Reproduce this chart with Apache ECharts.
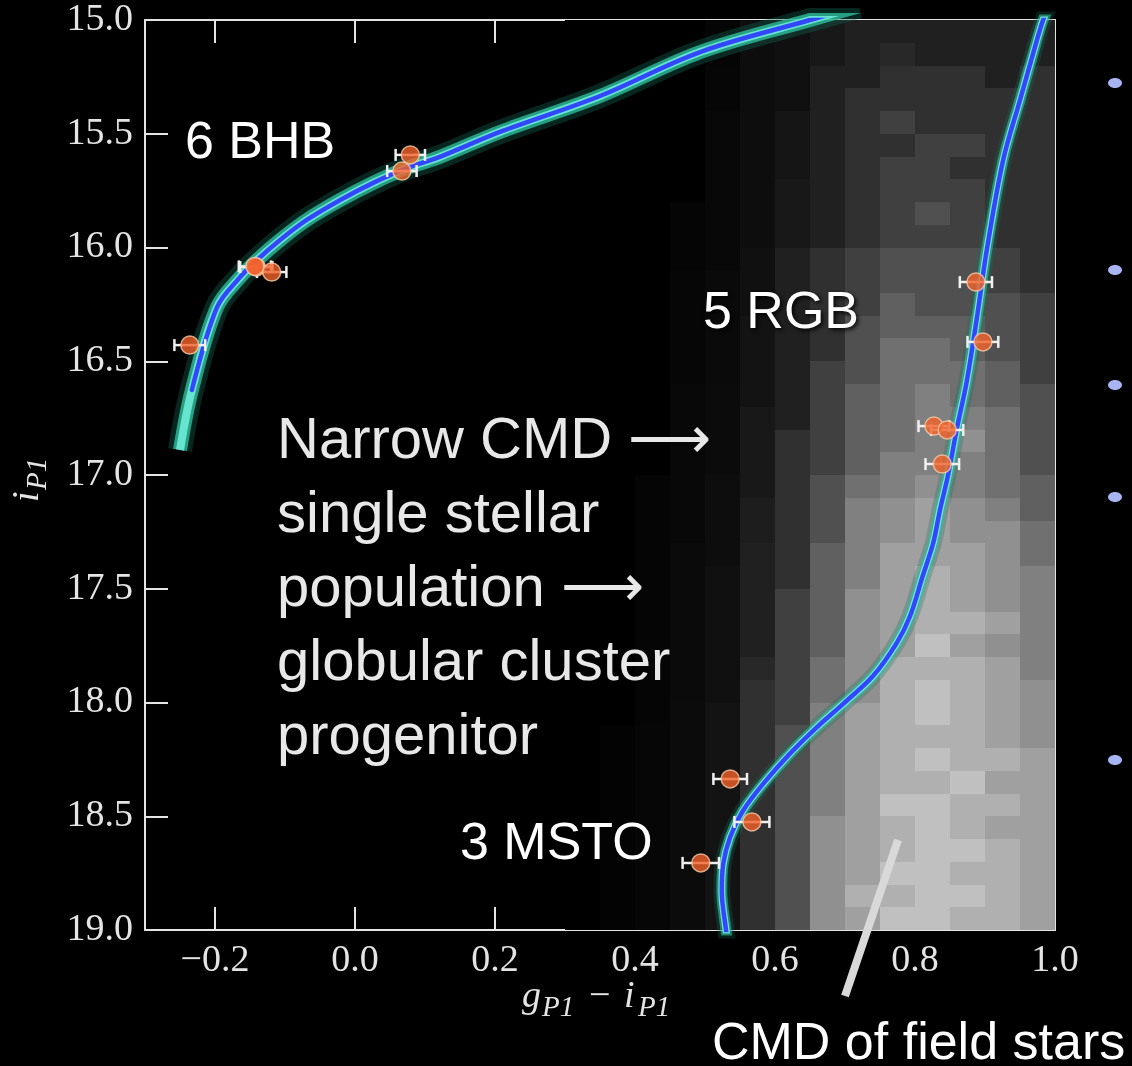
<!DOCTYPE html>
<html>
<head>
<meta charset="utf-8">
<style>
  html, body { margin: 0; padding: 0; background: #000; }
  #chart { width: 1132px; height: 1066px; }
</style>
<script src="https://cdn.jsdelivr.net/npm/echarts@6/dist/echarts.min.js"></script>
</head>
<body>
<div id="chart"></div>
<script>
// ---------- data ----------
const xTicks = [-0.2, 0.0, 0.2, 0.4, 0.6, 0.8, 1.0];

// Horizontal-branch isochrone (colour, magnitude)
const bhbCurveX = [-0.250, -0.233, -0.197, -0.164, -0.140, -0.107, -0.069, -0.021, 0.026, 0.074, 0.121, 0.207, 0.350, 0.493, 0.650, 0.720];
const bhbCurveY = [16.890, 16.626, 16.262, 16.130, 16.055, 15.967, 15.879, 15.791, 15.716, 15.651, 15.602, 15.492, 15.334, 15.141, 15.000, 14.940];

// Main sequence turn-off + red giant branch isochrone
const rgbCurveX = [0.532, 0.530, 0.524, 0.526, 0.536, 0.554, 0.583, 0.621, 0.660, 0.697, 0.740, 0.774, 0.793, 0.811, 0.826, 0.836, 0.847, 0.860, 0.874, 0.889, 0.903, 0.926, 0.950, 0.969, 0.983, 0.995];
const rgbCurveY = [19.050, 19.000, 18.829, 18.710, 18.591, 18.477, 18.358, 18.226, 18.108, 18.007, 17.884, 17.738, 17.620, 17.444, 17.299, 17.149, 17.004, 16.793, 16.587, 16.297, 16.002, 15.615, 15.352, 15.145, 15.000, 14.920];

// Member stars: colour, magnitude, colour error
const starX   = [-0.236, -0.141, -0.143, -0.119, 0.079, 0.067,  0.887, 0.897, 0.827, 0.846, 0.839,  0.536, 0.567, 0.494];
const starY   = [16.429, 16.086, 16.083, 16.108, 15.593, 15.664, 16.152, 16.415, 16.785, 16.802, 16.952, 18.336, 18.525, 18.705];
const starErr = [0.022, 0.023, 0.023, 0.021, 0.021, 0.021, 0.023, 0.022, 0.022, 0.023, 0.024, 0.024, 0.025, 0.026];

// Field-star CMD (2D histogram): column starts (colour), row starts (mag), brightness level per cell
const hmCols = [0.30, 0.35, 0.40, 0.45, 0.50, 0.55, 0.60, 0.65, 0.70, 0.75, 0.80, 0.85, 0.90, 0.95];
const hmMags = [15.0, 15.1, 15.2, 15.3, 15.4, 15.5, 15.6, 15.7, 15.8, 15.9,
                16.0, 16.1, 16.2, 16.3, 16.4, 16.5, 16.6, 16.7, 16.8, 16.9,
                17.0, 17.1, 17.2, 17.3, 17.4, 17.5, 17.6, 17.7, 17.8, 17.9,
                18.0, 18.1, 18.2, 18.3, 18.4, 18.5, 18.6, 18.7, 18.8, 18.9];
const hmLevels = [
  [0,0,0,0,0.3,0.8,1,1.5,2,2,2,2,2,2],
  [0,0,0,0,0.3,0.8,1,1.5,2,2.5,2,2,2,2],
  [0,0,0,0,0.4,0.8,1,2,2,3,3,3,2,3],
  [0,0,0,0,0.4,0.8,1,2,3,3,3,3,3,3],
  [0,0,0,0,0.5,0.8,1.3,2,3,4,3,3,3,3],
  [0,0,0,0,0.5,0.8,1.3,2,3,3,4,4,3,3],
  [0,0,0,0,0.5,0.8,1.3,2,3,4,4,3,3,3],
  [0,0,0,0,0.5,0.8,1.5,2,3,4,4,4,3,3],
  [0,0,0,0.3,0.5,0.8,1.5,2,3,4,5,4,3,3],
  [0,0,0,0.3,0.5,0.8,1.5,2,3,4,4,4,3,3],
  [0,0,0,0.3,0.5,1,2,3,4,5,5,5,4,3],
  [0,0,0,0.4,0.6,1,2,3,4,5,5,5,4,3],
  [0,0,0,0.4,0.6,1,2,3,4,6,5,5,5,4],
  [0,0,0,0.4,0.6,1.2,2,3,5,6,6,6,5,4],
  [0,0,0,0.4,0.6,1.2,2,3,5,7,7,6,5,4],
  [0,0,0,0.4,0.6,1.2,2,4,5,7,7,7,6,4],
  [0,0,0,0.5,0.7,1.2,2,4,6,7,8,7,6,5],
  [0,0,0,0.5,0.7,1.5,2,4,6,7,8,8,7,5],
  [0,0,0,0.5,0.7,1.5,3,4,6,7,8,9,7,5],
  [0,0,0,0.5,0.7,1.5,3,4,6,8,8,8,7,5],
  [0,0,0.3,0.5,0.8,1.5,3,5,7,8,9,8,7,6],
  [0,0,0.3,0.5,0.8,1.8,3,5,8,9,10,9,8,6],
  [0,0,0.3,0.5,0.8,1.8,3,5,8,9,10,9,9,7],
  [0,0,0.3,0.6,0.8,2,3,6,8,10,10,10,9,7],
  [0,0,0.3,0.6,1,2,3,6,8,10,11,10,9,8],
  [0,0,0.3,0.6,1,2,4,6,9,10,11,10,9,8],
  [0,0,0.3,0.6,1,2,4,6,9,10,11,11,10,8],
  [0,0,0.3,0.6,1,2,4,6,9,10,12,10,9,8],
  [0,0,0.3,0.6,1,2.5,4,7,9,11,11,11,10,8],
  [0,0,0.3,0.6,1,3,4,7,9,11,12,11,10,9],
  [0,0,0.3,0.7,1.2,3,4,8,10,11,12,11,10,9],
  [0,0.2,0.4,0.7,1.2,3,5,8,10,11,11,11,10,9],
  [0,0.2,0.4,0.7,1.2,3,5,8,10,11,12,11,11,10],
  [0,0.2,0.4,0.7,1.2,3,5,8,10,11,11,12,10,10],
  [0,0.2,0.4,0.7,1.2,3,5,8,10,12,12,11,11,10],
  [0,0.2,0.4,0.7,1.2,3,5,9,10,11,12,11,10,10],
  [0,0.2,0.4,0.7,1.2,3,5,9,10,11,12,12,11,10],
  [0,0.2,0.4,0.7,1.2,3,5,9,10,12,12,11,11,10],
  [0,0.2,0.4,0.7,1.2,3,5,9,11,11,12,12,11,10],
  [0,0.2,0.4,0.7,1.2,3,5,9,10,12,12,11,11,10]
];
const hmColWidth = 0.05, hmRowHeight = 0.1;

// ---------- build ----------
const zip = (a, b) => a.map((v, i) => [v, b[i]]);
const bhbAll = zip(bhbCurveX, bhbCurveY);
const bhbCore = bhbAll.slice(1);
const rgbAll = zip(rgbCurveX, rgbCurveY);
const stars = starX.map((x, i) => [x, starY[i], starErr[i]]);
const cells = [];
hmMags.forEach((m, r) => hmCols.forEach((c, k) => cells.push([c, m, hmLevels[r][k]])));

const AX = '#e4e4e4';
const serif = '"Liberation Serif", "DejaVu Serif", serif';
const sans = '"Liberation Sans", Arial, sans-serif';
const fmt = v => (v < 0 ? '\u2212' + Math.abs(v).toFixed(1) : v.toFixed(1));

function glowSeries(data, width, color, z, cap) {
  return { type: 'line', data, smooth: 0.35, showSymbol: false, symbol: 'none', silent: true,
           lineStyle: { width, color, cap: cap || 'butt', join: 'round' }, z, clip: true, animation: false };
}

const chart = echarts.init(document.getElementById('chart'), null, { renderer: 'canvas' });
chart.setOption({
  backgroundColor: '#000',
  animation: false,
  grid: { left: 145, top: 20, right: 77, bottom: 136, containLabel: false },
  xAxis: [
    { type: 'value', min: -0.3, max: 1.0, position: 'bottom',
      axisLine: { show: true, onZero: false, lineStyle: { color: AX, width: 2 } },
      axisTick: { show: true, inside: true, length: 23, customValues: xTicks, lineStyle: { color: AX, width: 2 } },
      axisLabel: { show: true, customValues: xTicks, formatter: fmt, color: AX, fontFamily: serif, fontSize: 38, margin: 12 },
      splitLine: { show: false } },
    { type: 'value', min: -0.3, max: 1.0, position: 'top',
      axisLine: { show: true, onZero: false, lineStyle: { color: AX, width: 2 } },
      axisTick: { show: true, inside: true, length: 23, customValues: xTicks, lineStyle: { color: AX, width: 2 } },
      axisLabel: { show: false }, splitLine: { show: false } }
  ],
  yAxis: [
    { type: 'value', min: 15, max: 19, interval: 0.5, inverse: true, position: 'left',
      axisLine: { show: true, onZero: false, lineStyle: { color: AX, width: 2 } },
      axisTick: { show: true, inside: true, length: 23, lineStyle: { color: AX, width: 2 } },
      axisLabel: { show: true, formatter: v => v.toFixed(1), color: AX, fontFamily: serif, fontSize: 38, margin: 12 },
      splitLine: { show: false } },
    { type: 'value', min: 15, max: 19, interval: 0.5, inverse: true, position: 'right',
      axisLine: { show: true, onZero: false, lineStyle: { color: AX, width: 2 } },
      axisTick: { show: true, inside: true, length: 23, lineStyle: { color: AX, width: 2 } },
      axisLabel: { show: false }, splitLine: { show: false } }
  ],
  series: [
    { type: 'custom', data: cells, silent: true, z: 1, clip: true,
      renderItem: function (params, api) {
        const x0 = api.value(0), y0 = api.value(1), v = api.value(2);
        const p0 = api.coord([x0, y0]);
        const p1 = api.coord([x0 + hmColWidth, y0 + hmRowHeight]);
        const g = Math.min(255, Math.round(v * 16));
        return { type: 'rect',
          shape: { x: Math.round(p0[0]), y: Math.round(p0[1]), width: Math.round(p1[0]) - Math.round(p0[0]), height: Math.round(p1[1]) - Math.round(p0[1]) },
          style: { fill: 'rgb(' + g + ',' + g + ',' + g + ')' } };
      } },
    glowSeries(bhbAll, 24, 'rgba(20,110,90,0.35)', 3),
    glowSeries(bhbAll, 14, 'rgba(45,190,155,0.8)', 4),
    glowSeries(bhbAll, 8, 'rgba(110,235,215,0.9)', 5),
    glowSeries(bhbCore, 4.5, '#3347ff', 6, 'round'),
    glowSeries(rgbAll, 17, 'rgba(20,110,90,0.28)', 3),
    glowSeries(rgbAll, 11, 'rgba(45,190,155,0.62)', 4),
    glowSeries(rgbAll, 7, 'rgba(120,240,225,0.9)', 5),
    glowSeries(rgbAll, 4.5, '#3347ff', 6),
    { type: 'custom', data: stars, silent: true, z: 8,
      renderItem: function (params, api) {
        const x = api.value(0), y = api.value(1), e = api.value(2);
        const a = api.coord([x - e, y]), b = api.coord([x + e, y]);
        const st = { stroke: '#f0f0f0', lineWidth: 2.5 };
        return { type: 'group', children: [
          { type: 'line', shape: { x1: a[0], y1: a[1], x2: b[0], y2: b[1] }, style: st },
          { type: 'line', shape: { x1: a[0], y1: a[1] - 6, x2: a[0], y2: a[1] + 6 }, style: st },
          { type: 'line', shape: { x1: b[0], y1: b[1] - 6, x2: b[0], y2: b[1] + 6 }, style: st }
        ] };
      } },
    { type: 'scatter', data: stars.map(s => [s[0], s[1]]), symbol: 'circle', symbolSize: 18, z: 9, silent: true,
      itemStyle: { color: '#f4622a', borderColor: '#f7caa6', borderWidth: 1.5 } }
  ],
  graphic: [
    { type: 'text', z: 100, x: 185, y: 144, style: { text: '6 BHB', fill: '#fff', font: '52px ' + sans, verticalAlign: 'middle' } },
    { type: 'text', z: 100, x: 703, y: 314, style: { text: '5 RGB', fill: '#fff', font: '52px ' + sans, verticalAlign: 'middle',
        textShadowColor: 'rgba(0,0,0,0.9)', textShadowBlur: 4, textShadowOffsetX: 2, textShadowOffsetY: 2 } },
    { type: 'text', z: 100, x: 277, y: 405, style: { text: 'Narrow CMD \u27F6\nsingle stellar\npopulation \u27F6\nglobular cluster\nprogenitor',
        fill: '#e8e8e8', font: '58px ' + sans, lineHeight: 74, verticalAlign: 'top' } },
    { type: 'text', z: 100, x: 460, y: 845, style: { text: '3 MSTO', fill: '#fff', font: '52px ' + sans, verticalAlign: 'middle' } },
    { type: 'text', z: 100, x: 712, y: 1045, style: { text: 'CMD of field stars', fill: '#fff', font: '52px ' + sans, verticalAlign: 'middle' } },
    { type: 'line', z: 100, shape: { x1: 898, y1: 840, x2: 845, y2: 996 }, style: { stroke: '#d9d9d9', lineWidth: 8 } },
    { type: 'text', z: 100, x: 522, y: 997, style: { text: 'g', fill: AX, font: 'italic 38px ' + serif, verticalAlign: 'middle' } },
    { type: 'text', z: 100, x: 542, y: 1008, style: { text: 'P1', fill: AX, font: 'italic 29px ' + serif, verticalAlign: 'middle' } },
    { type: 'text', z: 100, x: 589, y: 997, style: { text: '\u2212', fill: AX, font: '38px ' + serif, verticalAlign: 'middle' } },
    { type: 'text', z: 100, x: 624, y: 997, style: { text: 'i', fill: AX, font: 'italic 38px ' + serif, verticalAlign: 'middle' } },
    { type: 'text', z: 100, x: 638, y: 1008, style: { text: 'P1', fill: AX, font: 'italic 29px ' + serif, verticalAlign: 'middle' } },
    { type: 'group', z: 100, x: 28, y: 502, rotation: Math.PI / 2, children: [
      { type: 'text', x: 0, y: 0, style: { text: 'i', fill: AX, font: 'italic 38px ' + serif, verticalAlign: 'middle' } },
      { type: 'text', x: 12, y: 10, style: { text: 'P1', fill: AX, font: 'italic 29px ' + serif, verticalAlign: 'middle' } }
    ] },
    { type: 'ellipse', z: 100, shape: { cx: 1115, cy: 83, rx: 7, ry: 5 }, style: { fill: '#a8b4f2' } },
    { type: 'ellipse', z: 100, shape: { cx: 1115, cy: 270, rx: 7, ry: 5 }, style: { fill: '#a8b4f2' } },
    { type: 'ellipse', z: 100, shape: { cx: 1115, cy: 385, rx: 7, ry: 5 }, style: { fill: '#a8b4f2' } },
    { type: 'ellipse', z: 100, shape: { cx: 1115, cy: 497, rx: 7, ry: 5 }, style: { fill: '#a8b4f2' } },
    { type: 'ellipse', z: 100, shape: { cx: 1115, cy: 760, rx: 7, ry: 5 }, style: { fill: '#a8b4f2' } }
  ]
});
</script>
</body>
</html>
